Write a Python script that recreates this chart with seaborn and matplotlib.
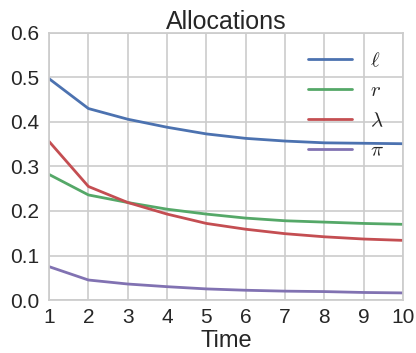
import matplotlib
matplotlib.use("Agg")
import matplotlib.pyplot as plt
import seaborn as sns
import pandas as pd

time = [1, 2, 3, 4, 5, 6, 7, 8, 9, 10]
ell = [0.497, 0.430, 0.406, 0.388, 0.373, 0.363, 0.357, 0.353, 0.352, 0.351]
r = [0.282, 0.236, 0.219, 0.204, 0.193, 0.184, 0.178, 0.175, 0.172, 0.170]
lam = [0.356, 0.255, 0.219, 0.193, 0.172, 0.159, 0.149, 0.142, 0.137, 0.134]
pi = [0.075, 0.045, 0.036, 0.030, 0.025, 0.022, 0.020, 0.019, 0.017, 0.016]
labels = [r"$\ell$", r"$r$", r"$\lambda$", r"$\pi$"]
colors = ["#4C72B0", "#55A868", "#C44E52", "#8172B2"]

sns.set_theme(style="whitegrid")
plt.rcParams["font.family"] = ["Liberation Sans", "DejaVu Sans"]
plt.rcParams["mathtext.fontset"] = "cm"
plt.rcParams["text.color"] = "#262626"
plt.rcParams["xtick.color"] = "#262626"
plt.rcParams["ytick.color"] = "#262626"

df = pd.DataFrame({"Time": time * 4,
                   "value": ell + r + lam + pi,
                   "series": sum([[l] * len(time) for l in labels], [])})

fig, ax = plt.subplots(figsize=(4.16, 3.53), dpi=100)
sns.lineplot(data=df, x="Time", y="value", hue="series", palette=colors,
             linewidth=2.0, ax=ax)
ax.set_xlim(1, 10)
ax.set_ylim(0, 0.6)
ax.set_xticks(range(1, 11))
ax.set_yticks([0.0, 0.1, 0.2, 0.3, 0.4, 0.5, 0.6])
ax.set_yticklabels(["0.0", "0.1", "0.2", "0.3", "0.4", "0.5", "0.6"])
ax.tick_params(axis="y", labelsize=15, pad=7, length=0)
ax.tick_params(axis="x", labelsize=15, pad=6, length=0)
ax.set_xlabel("Time", fontsize=17, labelpad=2, color="#262626")
ax.set_ylabel("")
ax.set_title("Allocations", fontsize=18, pad=3)
for s in ax.spines.values():
    s.set_color("#cccccc")
ax.grid(color="#cccccc", linewidth=1.2)
leg = ax.legend(frameon=False, fontsize=15, loc="upper right", handlelength=2.1,
                borderaxespad=0.5, labelspacing=0.52, handletextpad=0.9)
fig.subplots_adjust(left=0.118, right=0.969, top=0.907, bottom=0.150)
fig.savefig("out.png", dpi=100)
